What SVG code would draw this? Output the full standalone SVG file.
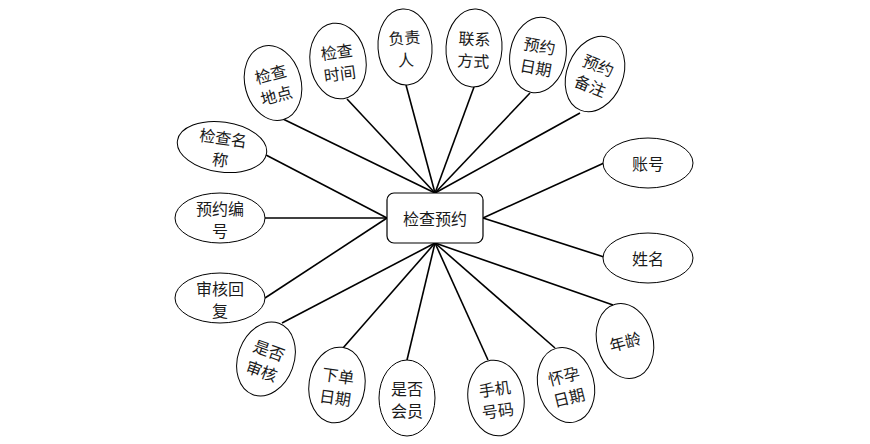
<svg xmlns="http://www.w3.org/2000/svg" width="870" height="444" viewBox="0 0 870 444">
<style>
.e{fill:#fff;stroke:#000;stroke-width:1}
.t{font-family:"Noto Sans CJK SC","Liberation Sans",sans-serif;font-size:16px;fill:#1a1a1a;text-anchor:middle;dominant-baseline:central}
.c line{stroke:#000;stroke-width:1.6}
</style>
<rect width="870" height="444" fill="#fff"/>
<g class="c" id="connectors">
<line x1="435" y1="193" x2="283" y2="119"/>
<line x1="435" y1="193" x2="347" y2="99"/>
<line x1="435" y1="193" x2="406" y2="85"/>
<line x1="435" y1="193" x2="474" y2="87"/>
<line x1="435" y1="193" x2="530" y2="93"/>
<line x1="435" y1="193" x2="580" y2="113"/>
<line x1="483" y1="218" x2="604" y2="163"/>
<line x1="483" y1="218" x2="604" y2="257"/>
<line x1="435" y1="243" x2="613" y2="305"/>
<line x1="435" y1="243" x2="555" y2="348"/>
<line x1="435" y1="243" x2="488" y2="360"/>
<line x1="435" y1="243" x2="407" y2="360"/>
<line x1="435" y1="243" x2="343" y2="348"/>
<line x1="435" y1="243" x2="282" y2="323"/>
<line x1="387" y1="218" x2="265" y2="298"/>
<line x1="387" y1="218" x2="265" y2="218"/>
<line x1="387" y1="218" x2="266" y2="155"/>
</g>
<g id="center">
<rect x="387" y="193" width="96" height="50" rx="7" fill="#fff" stroke="#000" stroke-width="1.2"/>
<text class="t" x="435" y="218">检查预约</text>
</g>
<g id="n-didian" transform="translate(273,83) rotate(-15)">
<ellipse class="e" rx="28" ry="38"/>
<text class="t" y="-10">检查</text><text class="t" y="12">地点</text>
</g>
<g id="n-shijian" transform="translate(338,61) rotate(-8)">
<ellipse class="e" rx="28" ry="38"/>
<text class="t" y="-10">检查</text><text class="t" y="12">时间</text>
</g>
<g id="n-fuzeren" transform="translate(405,47) rotate(-4)">
<ellipse class="e" rx="27" ry="38"/>
<text class="t" y="-10">负责</text><text class="t" y="12">人</text>
</g>
<g id="n-lianxi" transform="translate(474,48) rotate(3)">
<ellipse class="e" rx="28" ry="39"/>
<text class="t" y="-10">联系</text><text class="t" y="12">方式</text>
</g>
<g id="n-yuyueriqi" transform="translate(538,55) rotate(10)">
<ellipse class="e" rx="28" ry="38"/>
<text class="t" y="-10">预约</text><text class="t" y="12">日期</text>
</g>
<g id="n-beizhu" transform="translate(595,74) rotate(22)">
<ellipse class="e" rx="28" ry="39"/>
<text class="t" y="-10">预约</text><text class="t" y="12">备注</text>
</g>
<g id="n-zhanghao" transform="translate(648,163)">
<ellipse class="e" rx="45" ry="25"/>
<text class="t">账号</text>
</g>
<g id="n-xingming" transform="translate(648,258)">
<ellipse class="e" rx="45" ry="25"/>
<text class="t">姓名</text>
</g>
<g id="n-nianling" transform="translate(625,341) rotate(-15)">
<ellipse class="e" rx="28" ry="38"/>
<text class="t">年龄</text>
</g>
<g id="n-huaiyun" transform="translate(566,385) rotate(-14)">
<ellipse class="e" rx="28" ry="38"/>
<text class="t" y="-10">怀孕</text><text class="t" y="12">日期</text>
</g>
<g id="n-shouji" transform="translate(496,398) rotate(-8)">
<ellipse class="e" rx="28" ry="38"/>
<text class="t" y="-10">手机</text><text class="t" y="12">号码</text>
</g>
<g id="n-huiyuan" transform="translate(407,398)">
<ellipse class="e" rx="28" ry="38"/>
<text class="t" y="-10">是否</text><text class="t" y="12">会员</text>
</g>
<g id="n-xiadan" transform="translate(337,385) rotate(8)">
<ellipse class="e" rx="28" ry="38"/>
<text class="t" y="-10">下单</text><text class="t" y="12">日期</text>
</g>
<g id="n-shenhe" transform="translate(266,359) rotate(20)">
<ellipse class="e" rx="28" ry="38"/>
<text class="t" y="-10">是否</text><text class="t" y="12">审核</text>
</g>
<g id="n-huifu" transform="translate(220,298)">
<ellipse class="e" rx="45" ry="25"/>
<text class="t" y="-10">审核回</text><text class="t" y="12">复</text>
</g>
<g id="n-bianhao" transform="translate(220,218)">
<ellipse class="e" rx="45" ry="25"/>
<text class="t" y="-10">预约编</text><text class="t" y="12">号</text>
</g>
<g id="n-mingcheng" transform="translate(222,147) rotate(8)">
<ellipse class="e" rx="45" ry="25"/>
<text class="t" y="-10">检查名</text><text class="t" y="12">称</text>
</g>
</svg>
